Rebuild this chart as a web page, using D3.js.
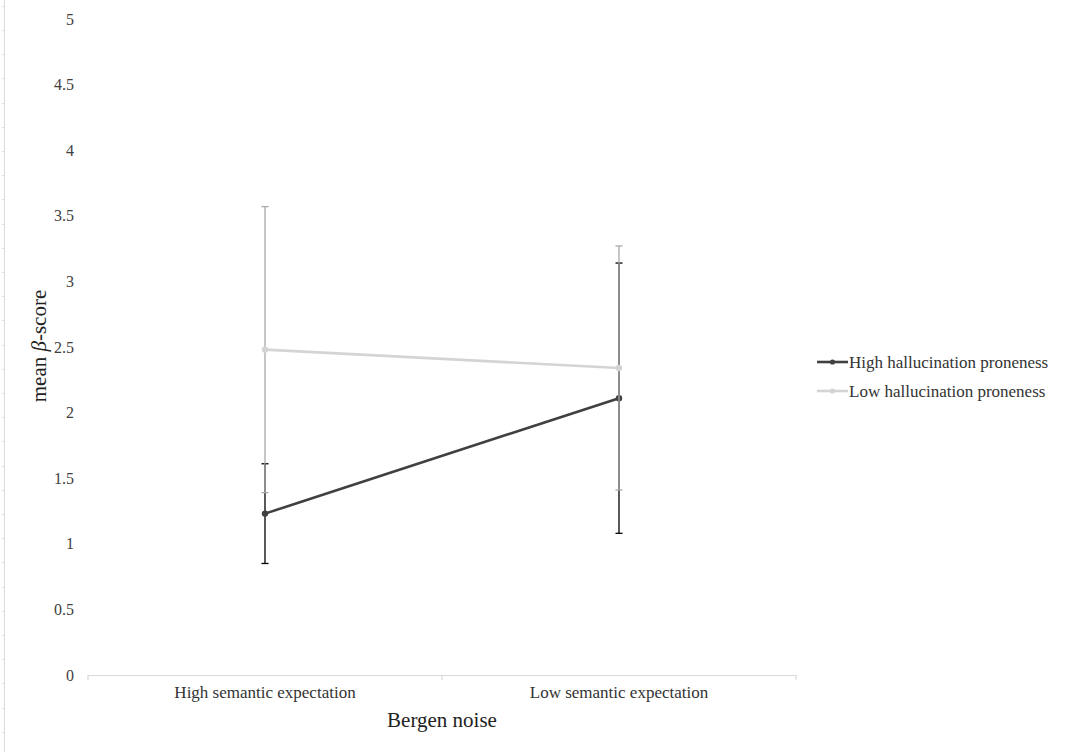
<!DOCTYPE html>
<html>
<head>
<meta charset="utf-8">
<script src="https://cdn.jsdelivr.net/npm/d3@7"></script>
<style>
  html, body { margin: 0; padding: 0; background: #fff; }
  svg { display: block; }
  text { font-family: "Liberation Serif", "Times New Roman", serif; }
</style>
</head>
<body>
<svg id="chart" width="1067" height="752"></svg>
<script>
// Conditions on the x axis
const conditions = ["High semantic expectation", "Low semantic expectation"];
// Group names (legend order)
const groups = ["High hallucination proneness", "Low hallucination proneness"];
// Mean beta-scores per group, one value per condition
const highMeans = [1.23, 2.11];
const lowMeans = [2.48, 2.34];
// Error bar half-widths per group, one value per condition
const highErrors = [0.38, 1.03];
const lowErrors = [1.09, 0.93];
// Y axis tick values
const yTicks = [0, 0.5, 1, 1.5, 2, 2.5, 3, 3.5, 4, 4.5, 5];

const series = [
  { name: groups[0], means: highMeans, errors: highErrors, line: "#404040", bar: "#000000", marker: "#404040" },
  { name: groups[1], means: lowMeans, errors: lowErrors, line: "#d4d4d4", bar: "#a9a9a9", marker: "#d4d4d4" }
];

const svg = d3.select("#chart");

const plot = { left: 88, right: 796, top: 19, bottom: 675 };

const x = d3.scaleBand().domain(conditions).range([plot.left, plot.right]);
const y = d3.scaleLinear().domain([0, 5]).range([plot.bottom, plot.top]);
const cx = c => x(c) + x.bandwidth() / 2;

// Faint page ruler along the left edge
const ruler = svg.append("g").attr("stroke", "#dcdcdc").attr("stroke-width", 1);
ruler.append("line").attr("x1", 4.5).attr("x2", 4.5).attr("y1", 0).attr("y2", 752);
ruler.selectAll("line.rt").data(d3.range(5.8, 752, 24.2)).join("line")
  .attr("class", "rt")
  .attr("x1", 2).attr("x2", 4.5)
  .attr("y1", d => Math.round(d) + 0.5).attr("y2", d => Math.round(d) + 0.5);

// Y axis: labels only, no line
const yAxis = svg.append("g")
  .attr("transform", `translate(${plot.left - 14},0)`)
  .call(d3.axisLeft(y).tickValues(yTicks).tickSize(0).tickPadding(0)
    .tickFormat(d => String(d)));
yAxis.select(".domain").remove();
yAxis.selectAll("text")
  .attr("fill", "#404040")
  .style("font-family", "'Liberation Serif', serif")
  .style("font-size", "16px");

// X axis: light baseline with boundary ticks
const xAxis = svg.append("g");
xAxis.append("line")
  .attr("x1", plot.left).attr("x2", plot.right)
  .attr("y1", plot.bottom + 0.5).attr("y2", plot.bottom + 0.5)
  .attr("stroke", "#d9d9d9").attr("stroke-width", 1.2);
const bounds = [plot.left, ...conditions.slice(1).map(c => x(c)), plot.right];
xAxis.selectAll("line.tk").data(bounds).join("line")
  .attr("class", "tk")
  .attr("x1", d => d).attr("x2", d => d)
  .attr("y1", plot.bottom).attr("y2", plot.bottom + 5)
  .attr("stroke", "#d9d9d9").attr("stroke-width", 1.2);
xAxis.selectAll("text").data(conditions).join("text")
  .attr("x", d => cx(d)).attr("y", 698)
  .attr("text-anchor", "middle")
  .attr("fill", "#333")
  .style("font-size", "17px")
  .text(d => d);

// Axis titles
svg.append("text")
  .attr("x", 442).attr("y", 727)
  .attr("text-anchor", "middle")
  .attr("fill", "#222")
  .style("font-size", "21px")
  .text("Bergen noise");

const yTitle = svg.append("text")
  .attr("transform", "translate(46,346) rotate(-90)")
  .attr("text-anchor", "middle")
  .attr("fill", "#222")
  .style("font-size", "21px");
yTitle.append("tspan").text("mean ");
yTitle.append("tspan").style("font-style", "italic").text("β");
yTitle.append("tspan").text("-score");

// Series: error bars, line, markers
const line = d3.line().x((d, i) => cx(conditions[i])).y(d => y(d));
const capHalf = 3.5;

series.forEach(s => {
  const g = svg.append("g");
  const pts = conditions.map((c, i) => ({ c, m: s.means[i], e: s.errors[i] }));

  g.selectAll("line.eb").data(pts).join("line")
    .attr("class", "eb")
    .attr("x1", d => cx(d.c)).attr("x2", d => cx(d.c))
    .attr("y1", d => y(d.m + d.e)).attr("y2", d => y(d.m - d.e))
    .attr("stroke", s.bar).attr("stroke-width", 1.3);
  ["+", "-"].forEach(sign => {
    g.selectAll(`line.cap${sign === "+" ? "t" : "b"}`).data(pts).join("line")
      .attr("class", `cap${sign === "+" ? "t" : "b"}`)
      .attr("x1", d => cx(d.c) - capHalf).attr("x2", d => cx(d.c) + capHalf)
      .attr("y1", d => y(sign === "+" ? d.m + d.e : d.m - d.e))
      .attr("y2", d => y(sign === "+" ? d.m + d.e : d.m - d.e))
      .attr("stroke", s.bar).attr("stroke-width", 1.3);
  });

  g.append("path")
    .datum(s.means)
    .attr("d", line)
    .attr("fill", "none")
    .attr("stroke", s.line)
    .attr("stroke-width", 2.6);

  g.selectAll("circle").data(pts).join("circle")
    .attr("cx", d => cx(d.c)).attr("cy", d => y(d.m))
    .attr("r", 3.2)
    .attr("fill", s.marker);
});

// Legend
const legend = svg.append("g").attr("transform", "translate(817,362)");
series.forEach((s, i) => {
  const row = legend.append("g").attr("transform", `translate(0,${i * 29})`);
  row.append("line")
    .attr("x1", 0).attr("x2", 31).attr("y1", 0).attr("y2", 0)
    .attr("stroke", s.line).attr("stroke-width", 2.6);
  row.append("circle").attr("cx", 15.5).attr("cy", 0).attr("r", 2.6).attr("fill", s.marker);
  row.append("text")
    .attr("x", 32).attr("y", 5.5)
    .attr("fill", "#333")
    .style("font-size", "17px")
    .text(s.name);
});
</script>
</body>
</html>
